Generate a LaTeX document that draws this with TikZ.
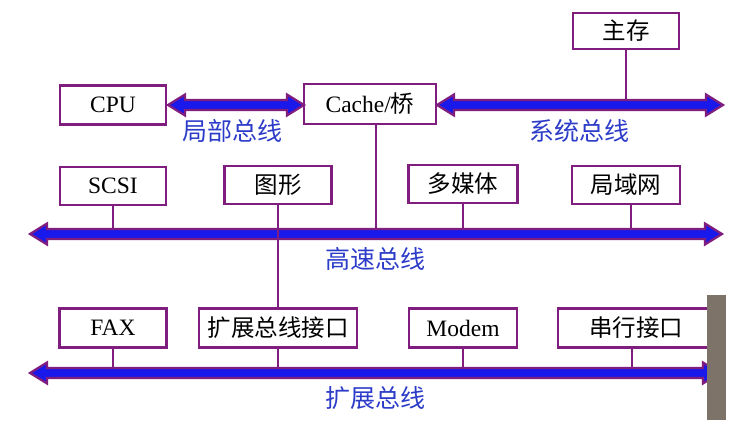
\documentclass[tikz,border=0pt]{standalone}
\usepackage{fontspec}
\usetikzlibrary{calc}
\setmainfont{Liberation Serif}
\newfontfamily\cjk{Noto Sans CJK SC}
\definecolor{bpurple}{RGB}{128,30,128}
\definecolor{bblue}{RGB}{25,25,235}
\definecolor{lblue}{RGB}{45,60,200}
\definecolor{photo}{RGB}{125,115,105}
\newcommand{\busarrow}[2]{%
  \path[draw=bpurple,line width=2.2pt,line join=miter,fill=bblue]
    let \p1=(#1), \p2=(#2) in
    (\x1,\y1) -- (\x1+17pt,\y1+10.5pt) -- (\x1+17pt,\y1+5pt) -- (\x2-17pt,\y2+5pt) -- (\x2-17pt,\y2+10.5pt)
    -- (\x2,\y2) -- (\x2-17pt,\y2-10.5pt) -- (\x2-17pt,\y2-5pt) -- (\x1+17pt,\y1-5pt) -- (\x1+17pt,\y1-10.5pt) -- cycle;}
\begin{document}
\begin{tikzpicture}[x=1pt,y=-1pt,
  box/.style={draw=bpurple,line width=2.6pt,fill=white,inner sep=0pt,
    minimum height=38pt,font=\fontsize{23.5}{26}\selectfont},
  buslabel/.style={text=lblue,font=\cjk\fontsize{25}{28}\selectfont,inner sep=0pt},
  stub/.style={draw=bpurple,line width=2.4pt}]
\useasboundingbox (0,0) rectangle (753,427);
% nodes
\node[box,minimum width=106pt,minimum height=36pt] (mem) at (626,31) {\cjk 主存};
\node[box,minimum width=106pt,minimum height=39pt] (cpu) at (113,105) {CPU};
\node[box,minimum width=132pt,minimum height=40pt] (cache) at (370,104) {Cache/{\cjk 桥}};
\node[box,minimum width=106pt] (scsi) at (113,186) {SCSI};
\node[box,minimum width=107pt] (graph) at (278,185) {\cjk 图形};
\node[box,minimum width=109pt] (media) at (463,184) {\cjk 多媒体};
\node[box,minimum width=108pt] (lan) at (626,185) {\cjk 局域网};
\node[box,minimum width=107pt,minimum height=39pt] (fax) at (113,328) {FAX};
\node[box,minimum width=158pt,minimum height=39pt] (ext) at (278,328) {\cjk 扩展总线接口};
\node[box,minimum width=108pt,minimum height=39pt] (modem) at (463,328) {Modem};
\node[box,minimum width=156pt,minimum height=39pt] (serial) at (636,328) {\cjk 串行接口};
% bus ends
\coordinate (lbA) at (168,105);
\coordinate (lbB) at (304,105);
\coordinate (sbA) at (437,105);
\coordinate (sbB) at (723,105);
\coordinate (hbA) at (30,234);
\coordinate (hbB) at (722,234);
\coordinate (ebA) at (30,373);
\coordinate (ebB) at (720,373);
\coordinate (hbTop) at (0,229);
\coordinate (ebTop) at (0,368);
\coordinate (sbTop) at (0,100);
% stubs
\draw[stub] (mem.south) -- (mem.south |- sbTop);
\draw[stub] (cache.south -| 376,0) -- (376,229);
\draw[stub] (scsi.south) -- (scsi.south |- hbTop);
\draw[stub] (media.south) -- (media.south |- hbTop);
\draw[stub] ([xshift=5pt]lan.south) -- ([xshift=5pt]lan.south |- hbTop);
\draw[stub] (fax.south) -- (fax.south |- ebTop);
\draw[stub] (ext.south) -- (ext.south |- ebTop);
\draw[stub] (modem.south) -- (modem.south |- ebTop);
\draw[stub] ([xshift=-4pt]serial.south) -- ([xshift=-4pt]serial.south |- ebTop);
% buses
\busarrow{lbA}{lbB}
\busarrow{sbA}{sbB}
\busarrow{hbA}{hbB}
\busarrow{ebA}{ebB}
\draw[stub] (graph.south) -- (ext.north);
% labels
\node[buslabel] (l1) at (232,131) {局部总线};
\node[buslabel] (l2) at (579,131) {系统总线};
\node[buslabel] (l3) at (375,259) {高速总线};
\node[buslabel] (l4) at (375,398) {扩展总线};
% photo strip at right edge
\fill[photo] (707,295) rectangle (726,420);
\end{tikzpicture}
\end{document}
